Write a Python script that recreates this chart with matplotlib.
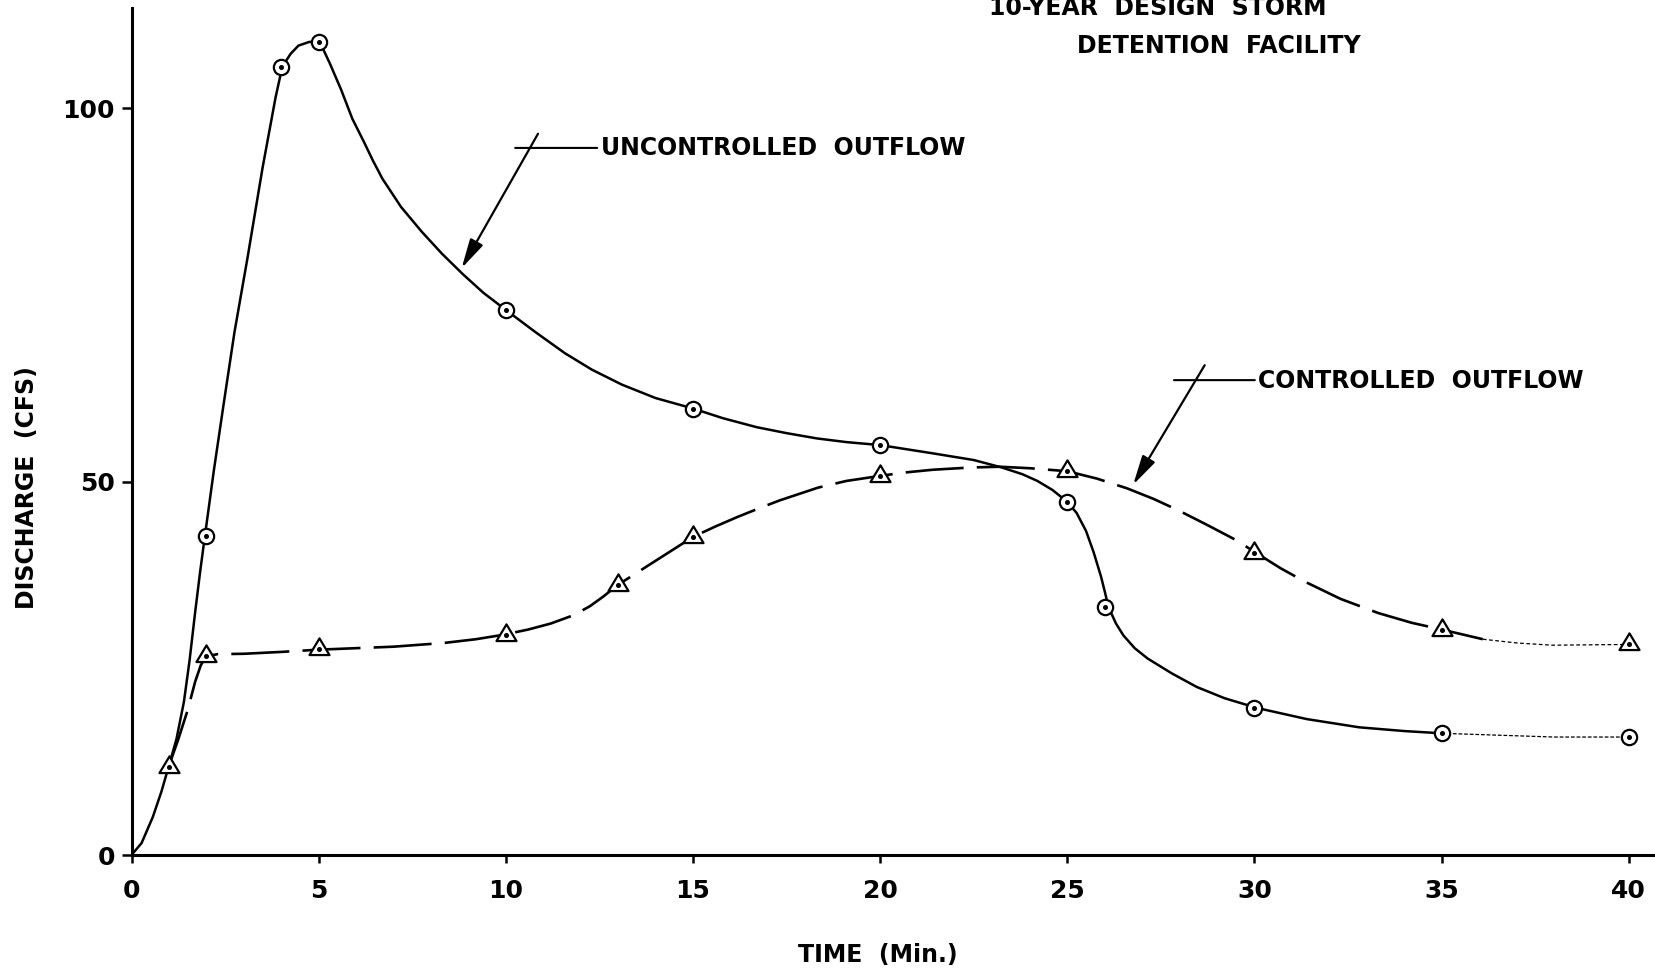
import numpy as np
import matplotlib
matplotlib.use("Agg")
import matplotlib.pyplot as plt
from matplotlib.path import Path

# plotted points (time in min, discharge in cfs)
time_unc = [2, 4, 5, 10, 15, 20, 25, 26, 30, 35, 40]
q_unc = [42.7, 105.6, 108.9, 73.0, 59.8, 54.9, 47.3, 33.2, 19.7, 16.3, 15.8]
time_con = [1, 2, 5, 10, 13, 15, 20, 25, 30, 35, 40]
q_con = [11.8, 26.6, 27.6, 29.5, 36.2, 42.6, 50.7, 51.4, 40.4, 30.2, 28.3]

# hand drawn curves
curve_unc_t = [0, 0.27, 0.57, 0.8, 0.99, 1.2, 1.4, 1.55, 1.7, 1.83, 1.96, 2.2, 2.45,
               2.75, 3.1, 3.5, 3.85, 4.03, 4.25, 4.46, 4.75, 5.03, 5.3, 5.6, 5.9, 6.2,
               6.45, 6.7, 7.2, 7.75, 8.3, 8.85, 9.4, 10.0, 10.8, 11.58, 12.3, 13.1,
               14.0, 15.0, 15.8, 16.7, 17.5, 18.3, 19.1, 20.0, 21.4, 22.5, 23.25,
               23.8, 24.2, 24.6, 25.0, 25.25, 25.5, 25.7, 25.9, 26.0, 26.1, 26.3,
               26.5, 26.8, 27.15, 27.8, 28.46, 29.2, 30.06, 31.4, 32.8, 34.0, 35.0,
               38.0, 40.0]
curve_unc_q = [0, 1.6, 5.1, 8.5, 11.8, 15.5, 20.5, 26.0, 32.5, 37.8, 42.7, 51.5, 60.0,
               70.0, 80.0, 92.0, 101.5, 105.6, 107.3, 108.4, 108.9, 108.9, 106.0, 102.5,
               98.6, 95.6, 93.0, 90.6, 86.8, 83.5, 80.5, 77.8, 75.3, 73.0, 70.0, 67.2,
               65.0, 63.0, 61.2, 59.8, 58.5, 57.3, 56.5, 55.8, 55.3, 54.9, 53.8, 52.9,
               51.9, 51.0, 50.1, 48.9, 47.3, 45.8, 43.4, 40.6, 37.3, 35.3, 33.2, 31.0,
               29.4, 27.7, 26.3, 24.3, 22.5, 21.0, 19.7, 18.2, 17.1, 16.6, 16.3,
               15.8, 15.8]
curve_con_t = [0.99, 1.25, 1.5, 1.7, 1.85, 1.99, 2.3, 3.0, 4.0, 5.0, 6.0, 7.0, 8.35,
               9.2, 9.94, 10.6, 11.2, 11.8, 12.24, 12.6, 13.0, 13.5, 14.0, 14.5, 15.0,
               15.6, 16.2, 16.8, 17.32, 18.34, 19.1, 19.9, 20.6, 21.41, 22.43, 23.2,
               24.0, 25.0, 25.8, 26.6, 27.3, 27.95, 28.7, 29.5, 30.0, 30.7, 31.35,
               32.3, 33.31, 34.2, 35.0, 36.1, 37.0, 37.95, 40.0]
curve_con_q = [11.8, 15.5, 19.4, 23.2, 25.4, 26.6, 26.9, 26.95, 27.2, 27.5, 27.7, 27.9,
               28.4, 28.9, 29.5, 30.2, 31.0, 32.1, 33.3, 34.6, 36.2, 37.8, 39.4, 41.0,
               42.6, 44.0, 45.3, 46.5, 47.5, 49.2, 50.1, 50.7, 51.2, 51.6, 51.9, 52.0,
               51.8, 51.4, 50.4, 49.1, 47.7, 46.2, 44.3, 42.2, 40.6, 38.4, 36.6,
               34.3, 32.4, 31.1, 30.2, 28.9, 28.4, 28.1, 28.2]

xticks = [0, 5, 10, 15, 20, 25, 30, 35, 40]
xtick_labels = ["0", "5", "10", "15", "20", "25", "30", "35", "40"]
yticks = [0, 50, 100]
ytick_labels = ["0", "50", "100"]

W, H = 1655, 971
fig = plt.figure(figsize=(W / 100, H / 100), dpi=100)
ax = fig.add_axes([131.5 / W, 1 - 855 / H, 1523.5 / W, 846.7 / H])
ax.set_xlim(0, 40.7)
ax.set_ylim(0, 113.4)

# triangle marker with its dot at the centroid
tri = Path([(0, 1), (-0.9, -0.5), (0.9, -0.5), (0, 1)],
           [Path.MOVETO, Path.LINETO, Path.LINETO, Path.CLOSEPOLY])

ut = np.array(curve_unc_t)
uq = np.array(curve_unc_q)
ct = np.array(curve_con_t)
cq = np.array(curve_con_q)

m = ut <= 35.0
ax.plot(ut[m], uq[m], color="black", lw=1.8, solid_joinstyle="round",
        solid_capstyle="round", zorder=3)
m = ut >= 35.0
ax.plot(ut[m], uq[m], color="black", lw=0.9, linestyle=(0, (3, 1.5)), zorder=3)

m = ct <= 36.1
ax.plot(ct[m], cq[m], color="black", lw=1.9, linestyle=(0, (22, 5)),
        dash_joinstyle="round", zorder=3)
m = ct >= 36.1
ax.plot(ct[m], cq[m], color="black", lw=0.9, linestyle=(0, (3, 2)), zorder=3)

ax.plot(time_unc, q_unc, linestyle="none", marker="o", ms=11, mfc="white",
        mec="black", mew=1.6, zorder=4)
ax.plot(time_unc, q_unc, linestyle="none", marker="o", ms=2.6, color="black", zorder=5)
ax.plot(time_con, q_con, linestyle="none", marker=tri, ms=16, mfc="white",
        mec="black", mew=1.6, zorder=4)
ax.plot(time_con, q_con, linestyle="none", marker="o", ms=2.6, color="black", zorder=5)

for s in ["top", "right"]:
    ax.spines[s].set_visible(False)
for s in ["left", "bottom"]:
    ax.spines[s].set_linewidth(2.2)

ax.set_xticks(xticks)
ax.set_xticklabels(xtick_labels)
ax.set_yticks(yticks)
ax.set_yticklabels(ytick_labels)
ax.tick_params(axis="x", direction="out", length=6, width=1.8, pad=11, labelsize=18)
ax.tick_params(axis="y", direction="out", length=7, width=1.8, pad=5, labelsize=18)
for t in ax.get_xticklabels() + ax.get_yticklabels():
    t.set_fontweight("bold")

lbl = dict(fontsize=17, color="black", fontweight="bold")
head = dict(arrowstyle="-|>,head_length=0.9,head_width=0.22", lw=1.6, color="black",
            mutation_scale=20, shrinkA=0, shrinkB=0)
line = dict(arrowstyle="-", lw=1.5, color="black", shrinkA=0, shrinkB=0)

# uncontrolled label
ax.annotate("", xy=(8.82, 78.6), xytext=(10.86, 96.6), arrowprops=head)
ax.annotate("", xy=(10.25, 94.7), xytext=(12.44, 94.7), arrowprops=line)
ax.text(12.55, 94.75, "UNCONTROLLED  OUTFLOW", va="center", ha="left", **lbl)

# controlled label
ax.annotate("", xy=(26.76, 49.6), xytext=(28.67, 65.6), arrowprops=head)
ax.annotate("", xy=(27.85, 63.6), xytext=(30.01, 63.6), arrowprops=line)
ax.text(30.1, 63.5, "CONTROLLED  OUTFLOW", va="center", ha="left", **lbl)

fig.text(1158 / W, 1 - 15 / H, "10-YEAR  DESIGN  STORM", ha="center", va="baseline", **lbl)
fig.text(1219 / W, 1 - 53 / H, "DETENTION  FACILITY", ha="center", va="baseline", **lbl)

fig.text(27 / W, 1 - 488 / H, "DISCHARGE  (CFS)", rotation=90, ha="center", va="center", **lbl)
fig.text(878 / W, 1 - 955 / H, "TIME  (Min.)", ha="center", va="center", **lbl)

fig.savefig("out.png", dpi=100, facecolor="white")
